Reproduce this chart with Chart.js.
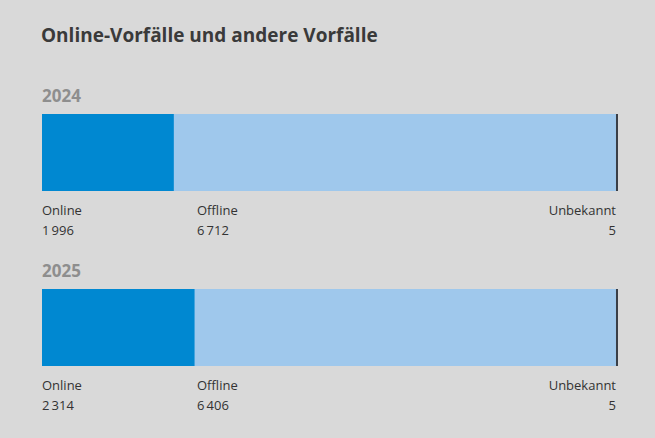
<!DOCTYPE html>
<html>
<head>
<meta charset="utf-8">
<script src="https://cdn.jsdelivr.net/npm/chart.js@4"></script>
<style>
  body { margin: 0; background: #d9d9d9; font-family: "Open Sans", sans-serif; }
  #wrap { position: relative; width: 655px; height: 438px; }
  .t { position: absolute; white-space: nowrap; }
  h1 { position: absolute; left: 41px; top: 22px; margin: 0; font-size: 19px; font-weight: 700; color: #3a3a3a; }
  .year { font-size: 17px; font-weight: 700; color: #8e8e8e; left: 42px; }
  .lab { font-size: 13px; color: #333; }
  .box { position: absolute; left: 42px; width: 576px; height: 77px; }
</style>
</head>
<body>
<div id="wrap">
  <h1>Online-Vorfälle und andere Vorfälle</h1>
</div>
<script>
const years = ['2024', '2025'];
const categories = ['Online', 'Offline', 'Unbekannt'];
const online = [1996, 2314];
const offline = [6712, 6406];
const unknown = [5, 5];
const colors = ['#0088d1', '#9fc8ec', '#3a3f47'];

const tops = [84, 259];
const wrap = document.getElementById('wrap');
const fmt = n => n.toLocaleString('de-CH').replace(/[’']/g, '\u2009').replace(/\./g, '\u2009');

function add(cls, text, left, top, right) {
  const d = document.createElement('div');
  d.className = 't ' + cls;
  d.textContent = text;
  d.style.top = top + 'px';
  if (right != null) d.style.right = right + 'px'; else d.style.left = left + 'px';
  wrap.appendChild(d);
}

years.forEach((y, i) => {
  const top = tops[i];
  add('year', y, 42, top);
  const box = document.createElement('div');
  box.className = 'box';
  box.style.top = (top + 30) + 'px';
  const c = document.createElement('canvas');
  box.appendChild(c);
  wrap.appendChild(box);
  const vals = [online[i], offline[i], unknown[i]];
  const total = vals.reduce((a, b) => a + b, 0);
  new Chart(c, {
    type: 'bar',
    data: {
      labels: [y],
      datasets: categories.map((cat, k) => ({
        label: cat,
        data: [k === 2 ? total * 0.0035 : vals[k]],
        backgroundColor: colors[k],
        borderWidth: 0,
        barPercentage: 1,
        categoryPercentage: 1
      }))
    },
    options: {
      indexAxis: 'y',
      responsive: true,
      maintainAspectRatio: false,
      animation: false,
      layout: { padding: 0 },
      plugins: { legend: { display: false }, tooltip: { enabled: false } },
      scales: {
        x: { stacked: true, display: false, min: 0, max: total * 1.0035 },
        y: { stacked: true, display: false }
      }
    }
  });
  const ly = top + 117, ny = top + 137;
  add('lab', 'Online', 42, ly);
  add('lab', fmt(online[i]), 42, ny);
  add('lab', 'Offline', 197, ly);
  add('lab', fmt(offline[i]), 197, ny);
  add('lab', 'Unbekannt', 0, ly, 39);
  add('lab', fmt(unknown[i]), 0, ny, 39);
});
</script>
</body>
</html>
